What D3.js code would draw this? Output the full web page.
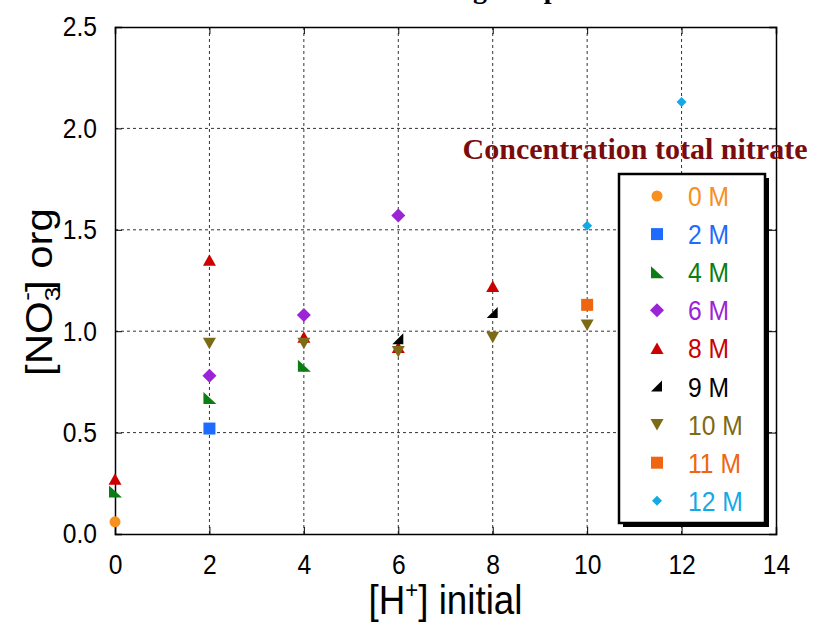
<!DOCTYPE html>
<html>
<head>
<meta charset="utf-8">
<script src="https://cdn.jsdelivr.net/npm/d3@7"></script>
<style>
  body { margin: 0; background: #fff; }
  svg { display: block; }
</style>
</head>
<body>
<div id="chart"></div>
<script>
// series: nitrate concentration, marker, colour, points [H+], [NO3-]org
const seriesNames = ["0 M", "2 M", "4 M", "6 M", "8 M", "9 M", "10 M", "11 M", "12 M"];
const seriesColors = ["#f7901e", "#1f6bff", "#0b7d12", "#9b24d6", "#cc0000", "#000000", "#7d6a16", "#f0650f", "#12a9e6"];
const seriesShapes = ["circle", "square", "rtri", "diamond", "up", "rtri2", "down", "square", "smalldiamond"];
const hInit0 = [0], no3_0 = [0.06];
const hInit2 = [2], no3_2 = [0.52];
const hInit4 = [0, 2, 4], no3_4 = [0.21, 0.67, 0.83];
const hInit6 = [2, 4, 6], no3_6 = [0.78, 1.08, 1.57];
const hInit8 = [0, 2, 4, 6, 8], no3_8 = [0.27, 1.35, 0.97, 0.92, 1.22];
const hInit9 = [6, 8], no3_9 = [0.96, 1.09];
const hInit10 = [2, 4, 6, 8, 10], no3_10 = [0.94, 0.94, 0.90, 0.97, 1.03];
const hInit11 = [10], no3_11 = [1.13];
const hInit12 = [10, 12], no3_12 = [1.52, 2.13];

const xTicks = [0, 2, 4, 6, 8, 10, 12, 14];
const yTicks = [0, 0.5, 1.0, 1.5, 2.0, 2.5];

const allX = [hInit0, hInit2, hInit4, hInit6, hInit8, hInit9, hInit10, hInit11, hInit12];
const allY = [no3_0, no3_2, no3_4, no3_6, no3_8, no3_9, no3_10, no3_11, no3_12];

const width = 816, height = 625;
const margin = { top: 27, right: 40, bottom: 91, left: 115 };
const squeeze = 0.88; // text in the original is a bit narrow

const svg = d3.select("#chart").append("svg").attr("width", width).attr("height", height);

const x = d3.scaleLinear().domain([0, 14]).range([margin.left, width - margin.right]);
const y = d3.scaleLinear().domain([0, 2.5]).range([height - margin.bottom, margin.top]);

// marker paths, centred on 0,0
function markerPath(shape) {
  const p = d3.path();
  if (shape === "circle") {
    p.arc(0, 0, 5.5, 0, 2 * Math.PI);
  } else if (shape === "square") {
    p.rect(-6, -6, 12, 12);
  } else if (shape === "diamond") {
    p.moveTo(0, -7); p.lineTo(7, 0); p.lineTo(0, 7); p.lineTo(-7, 0); p.closePath();
  } else if (shape === "smalldiamond") {
    p.moveTo(0, -5); p.lineTo(5, 0); p.lineTo(0, 5); p.lineTo(-5, 0); p.closePath();
  } else if (shape === "up") {
    p.moveTo(0, -6); p.lineTo(6.5, 5.5); p.lineTo(-6.5, 5.5); p.closePath();
  } else if (shape === "down") {
    p.moveTo(0, 6); p.lineTo(6.5, -5.5); p.lineTo(-6.5, -5.5); p.closePath();
  } else if (shape === "rtri") {
    p.moveTo(-6, -6); p.lineTo(7, 6); p.lineTo(-6, 6); p.closePath();
  } else if (shape === "rtri2") {
    p.moveTo(5, -6); p.lineTo(5, 5); p.lineTo(-6, 5); p.closePath();
  }
  return p.toString();
}

// grid
const grid = svg.append("g")
  .attr("stroke", "#333")
  .attr("stroke-width", 1)
  .attr("stroke-dasharray", "3,3");

grid.selectAll(".vgrid")
  .data(xTicks.slice(1, -1))
  .join("line")
  .attr("x1", d => x(d)).attr("x2", d => x(d))
  .attr("y1", y(0)).attr("y2", y(2.5));

grid.selectAll(".hgrid")
  .data(yTicks.slice(1, -1))
  .join("line")
  .attr("x1", x(0)).attr("x2", x(14))
  .attr("y1", d => y(d)).attr("y2", d => y(d));

// axes with inward ticks
const fontAx = "Liberation Sans, Arial, sans-serif";

const xAxis = svg.append("g")
  .attr("transform", `translate(0,${y(0)})`)
  .call(d3.axisBottom(x).tickValues(xTicks).tickSize(-7).tickPadding(20).tickFormat(d3.format("d")));
const yAxis = svg.append("g")
  .attr("transform", `translate(${x(0)},0)`)
  .call(d3.axisLeft(y).tickValues(yTicks).tickSize(-7).tickPadding(18).tickFormat(d3.format(".1f")));
const xTop = svg.append("g")
  .attr("transform", `translate(0,${y(2.5)})`)
  .call(d3.axisTop(x).tickValues(xTicks).tickSize(-7).tickFormat(""));
const yRight = svg.append("g")
  .attr("transform", `translate(${x(14)},0)`)
  .call(d3.axisRight(y).tickValues(yTicks).tickSize(-7).tickFormat(""));

[xAxis, yAxis, xTop, yRight].forEach(a => {
  a.select(".domain").attr("stroke", "#000").attr("stroke-width", 1.5);
  a.selectAll(".tick line").attr("stroke", "#000").attr("stroke-width", 1);
  a.selectAll("text").attr("font-family", fontAx).attr("font-size", 28).attr("fill", "#000");
});
xAxis.selectAll("text").attr("transform", `scale(${squeeze},1)`);
yAxis.selectAll("text").attr("x", 0).attr("transform", `translate(-18,0) scale(${squeeze},1)`);

// points
allX.forEach((xs, i) => {
  svg.append("g")
    .selectAll("path")
    .data(xs.map((v, j) => [v, allY[i][j]]))
    .join("path")
    .attr("d", markerPath(seriesShapes[i]))
    .attr("transform", d => `translate(${x(d[0])},${y(d[1])})`)
    .attr("fill", seriesColors[i]);
});

// axis titles
const xt = svg.append("g")
  .attr("transform", `translate(${(x(0) + x(14)) / 2},614) scale(0.92,1)`)
  .append("text")
  .attr("text-anchor", "middle")
  .attr("font-family", fontAx)
  .attr("font-size", 40);
xt.append("tspan").text("[H");
xt.append("tspan").attr("dy", -16).attr("font-size", 24).text("+");
xt.append("tspan").attr("dy", 16).text("] initial");

const yt = svg.append("g")
  .attr("transform", `translate(52,292) scale(${squeeze},1) rotate(-90)`)
  .append("text")
  .attr("text-anchor", "middle")
  .attr("font-family", fontAx)
  .attr("font-size", 42);
yt.append("tspan").text("[NO");
yt.append("tspan").attr("dy", 9).attr("font-size", 26).text("3");
yt.append("tspan").attr("dx", -14).attr("dy", -30).attr("font-size", 26).text("-");
yt.append("tspan").attr("dy", 21).text("] org");

// top title, mostly off the page as in the original
svg.append("text")
  .attr("x", 468)
  .attr("y", -2)
  .attr("text-anchor", "middle")
  .attr("font-family", "Liberation Serif, Times New Roman, serif")
  .attr("font-size", 28)
  .attr("font-weight", "bold")
  .text("Nitrate in organic phase");

// legend title
svg.append("text")
  .attr("x", 635)
  .attr("y", 159)
  .attr("text-anchor", "middle")
  .attr("font-family", "Liberation Serif, Times New Roman, serif")
  .attr("font-size", 30)
  .attr("font-weight", "bold")
  .attr("fill", "#7a0c0c")
  .text("Concentration total nitrate");

// legend box
const lg = svg.append("g").attr("transform", "translate(619,174)");
lg.append("rect").attr("x", 4).attr("y", 4).attr("width", 146).attr("height", 349).attr("fill", "#000");
lg.append("rect").attr("width", 146).attr("height", 349)
  .attr("fill", "#fff").attr("stroke", "#000").attr("stroke-width", 2.5);

const rows = lg.selectAll(".row")
  .data(seriesNames)
  .join("g")
  .attr("transform", (d, i) => `translate(0,${22 + i * 38.1})`);
rows.append("path")
  .attr("d", (d, i) => markerPath(seriesShapes[i]))
  .attr("transform", "translate(38,0)")
  .attr("fill", (d, i) => seriesColors[i]);
rows.append("text")
  .attr("transform", `translate(69,10) scale(${squeeze},1)`)
  .attr("font-family", fontAx)
  .attr("font-size", 28)
  .attr("fill", (d, i) => seriesColors[i])
  .text(d => d);
</script>
</body>
</html>
